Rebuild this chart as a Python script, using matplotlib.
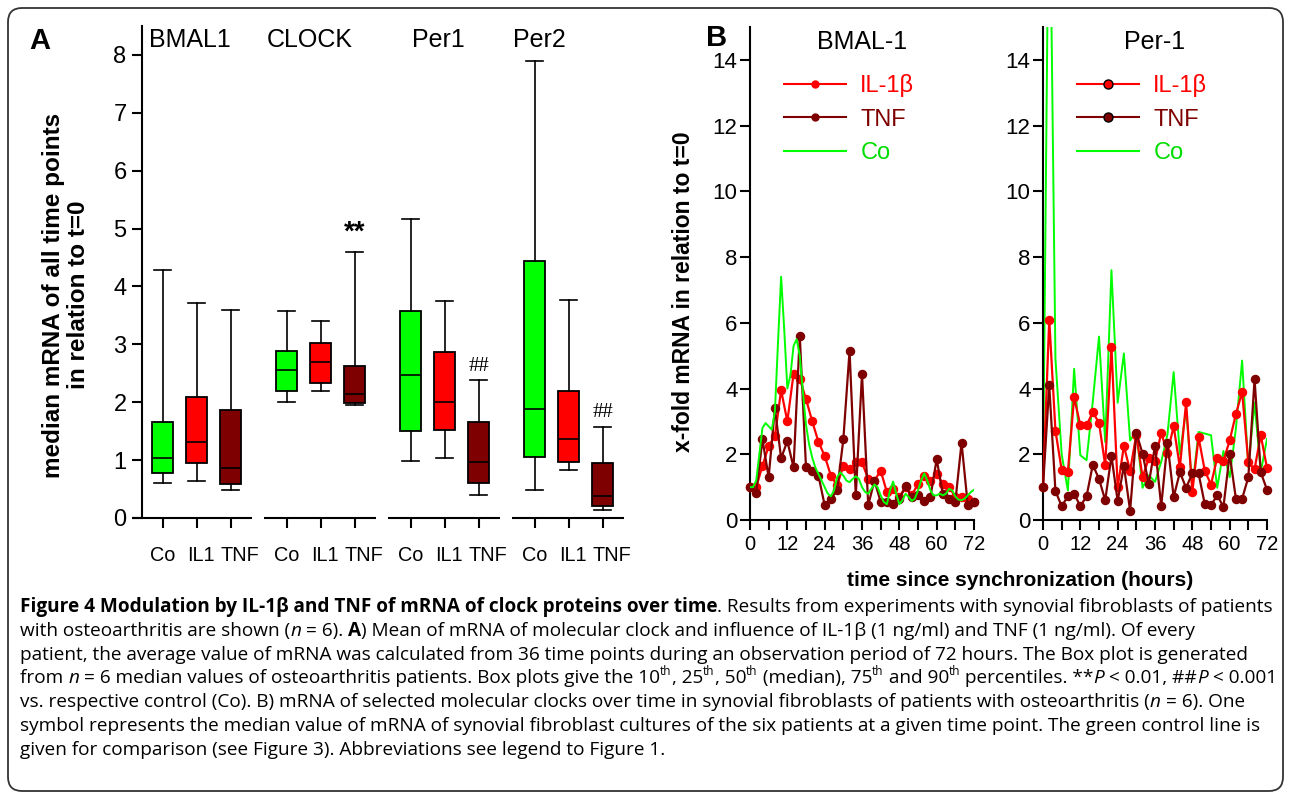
import numpy as np
import matplotlib
matplotlib.use("Agg")
import matplotlib.pyplot as plt
import matplotlib.transforms as mtransforms
from matplotlib.lines import Line2D
from matplotlib.patches import FancyBboxPatch
from matplotlib.font_manager import FontProperties

W, H = 1290, 795
plt.rcParams['font.family'] = ['Liberation Sans', 'DejaVu Sans']

GREEN = '#00ff00'
RED = '#ff0000'
DARK = '#7f0000'

# ---- panel A: 10th, 25th, 50th, 75th, 90th percentiles per gene / treatment
genes = ['BMAL1', 'CLOCK', 'Per1', 'Per2']
treatments = ['Co', 'IL1', 'TNF']
box_colors = [GREEN, RED, DARK]
p10 = [[0.61, 0.64, 0.48], [2.01, 2.19, 1.95], [0.99, 1.04, 0.40], [0.49, 0.83, 0.14]]
p25 = [[0.78, 0.95, 0.59], [2.19, 2.33, 1.98], [1.50, 1.52, 0.61], [1.05, 0.96, 0.21]]
p50 = [[1.04, 1.32, 0.86], [2.56, 2.69, 2.14], [2.47, 2.01, 0.97], [1.88, 1.36, 0.38]]
p75 = [[1.65, 2.09, 1.87], [2.89, 3.02, 2.63], [3.57, 2.86, 1.65], [4.44, 2.19, 0.95]]
p90 = [[4.28, 3.72, 3.60], [3.58, 3.41, 4.59], [5.16, 3.75, 2.38], [7.89, 3.76, 1.57]]
sig_marks = [(1, 2, '**'), (2, 2, '##'), (3, 2, '##')]

# ---- panel B: medians over time (every 2 h), control every 1 h / 2 h
hours = np.arange(0, 73, 2)
hours_1h = np.arange(0, 73, 1)

bmal_il1 = [1.0, 1.0, 1.65, 2.25, 2.55, 3.95, 3.0, 4.45, 4.3, 3.68,
            3.0, 2.38, 1.95, 1.35, 1.05, 1.65, 1.55, 1.75, 1.75, 1.25,
            1.2, 1.5, 0.85, 0.95, 0.7, 1.0, 0.75, 1.1, 1.35, 1.2,
            1.4, 1.1, 1.0, 0.7, 0.7, 0.65, 0.55]
bmal_tnf = [1.0, 0.83, 2.45, 1.3, 3.4, 1.88, 2.4, 1.6, 5.6, 1.6,
            1.5, 1.35, 0.45, 0.65, 0.9, 2.45, 5.15, 0.75, 4.45, 0.45,
            1.2, 0.55, 0.55, 0.5, 0.65, 1.02, 0.7, 0.75, 0.58, 0.7,
            1.85, 0.78, 0.65, 0.55, 2.35, 0.45, 0.55]
bmal_co = [1.0, 1.0, 1.2, 2.0, 2.8, 2.95, 2.85, 2.75, 3.3, 5.4, 7.4, 5.8,
           4.0, 4.4, 5.3, 5.5, 5.0, 3.9, 2.9, 2.3, 1.9, 1.6, 1.4, 1.2,
           1.0, 0.8, 0.72, 0.9, 1.3, 1.45, 1.35, 1.2, 1.15, 1.25, 1.33, 1.25,
           1.0, 0.85, 0.8, 0.95, 1.08, 1.0, 0.75, 0.55, 0.48, 0.9, 1.17, 0.8,
           0.48, 0.6, 0.8, 0.7, 0.58, 0.65, 0.9, 1.2, 1.42, 1.2, 0.9, 0.75,
           0.75, 0.8, 0.75, 0.8, 0.95, 0.9, 0.72, 0.62, 0.6, 0.65, 0.75, 0.85,
           0.92]

per_il1 = [1.0, 6.1, 2.72, 1.52, 1.47, 3.73, 2.88, 2.88, 3.28, 2.96,
           1.66, 5.27, 1.0, 2.25, 1.5, 2.6, 1.3, 1.88, 1.8, 2.65,
           2.05, 2.85, 1.6, 3.58, 0.85, 2.52, 1.5, 1.08, 1.9, 1.8,
           2.42, 3.22, 3.9, 1.75, 1.55, 2.58, 1.58]
per_tnf = [1.0, 4.1, 0.88, 0.42, 0.72, 0.8, 0.42, 0.72, 1.68, 1.25,
           0.6, 1.95, 0.58, 1.65, 0.28, 2.65, 2.02, 1.1, 2.25, 0.42,
           2.35, 0.7, 1.45, 0.98, 1.42, 1.42, 0.48, 0.45, 0.75, 0.4,
           2.0, 0.65, 0.65, 1.3, 4.28, 1.45, 0.92]
per_co = [1.0, 21.0, 4.9, 2.0, 0.9, 4.6, 1.97, 1.82, 3.6, 5.58,
          2.37, 7.6, 3.57, 5.07, 2.42, 2.7, 0.98, 1.36, 1.16, 1.77,
          2.6, 4.5, 2.0, 3.38, 0.98, 2.68, 2.63, 2.58, 0.98, 2.1,
          1.3, 2.78, 4.85, 1.6, 3.57, 1.46, 2.47]

legend_labels = ['IL-1\u03b2', 'TNF', 'Co']

caption = [
    [("Figure 4 Modulation by IL-1\u03b2 and TNF of mRNA of clock proteins over time", 'b'),
     (". Results from experiments with synovial fibroblasts of patients", '')],
    [("with osteoarthritis are shown (", ''), ("n", 'i'), (" = 6). ", ''), ("A", 'b'),
     (") Mean of mRNA of molecular clock and influence of IL-1\u03b2 (1 ng/ml) and TNF (1 ng/ml). Of every", '')],
    [("patient, the average value of mRNA was calculated from 36 time points during an observation period of 72 hours. The Box plot is generated", '')],
    [("from ", ''), ("n", 'i'), (" = 6 median values of osteoarthritis patients. Box plots give the 10", ''), ("th", 's'),
     (", 25", ''), ("th", 's'), (", 50", ''), ("th", 's'), (" (median), 75", ''), ("th", 's'),
     (" and 90", ''), ("th", 's'), (" percentiles. **", ''), ("P", 'i'), (" < 0.01, ##", ''), ("P", 'i'),
     (" < 0.001", '')],
    [("vs. respective control (Co). B) mRNA of selected molecular clocks over time in synovial fibroblasts of patients with osteoarthritis (", ''),
     ("n", 'i'), (" = 6). One", '')],
    [("symbol represents the median value of mRNA of synovial fibroblast cultures of the six patients at a given time point. The green control line is", '')],
    [("given for comparison (see Figure 3). Abbreviations see legend to Figure 1.", '')],
]

fig = plt.figure(figsize=(W / 100, H / 100), dpi=100)


def px_axes(left, top, right, bottom):
    return fig.add_axes([left / W, 1 - bottom / H, (right - left) / W, (bottom - top) / H])


def ftext(x, y, s, **kw):
    return fig.text(x / W, 1 - y / H, s, **kw)


# ================= panel A =================
axA = px_axes(132, 26, 623, 518)
stats, positions, colors = [], [], []
for g in range(len(genes)):
    for k in range(len(treatments)):
        stats.append(dict(whislo=p10[g][k], q1=p25[g][k], med=p50[g][k],
                          q3=p75[g][k], whishi=p90[g][k], fliers=[]))
        positions.append(g * 3.65 + k)
        colors.append(box_colors[k])
bp = axA.bxp(stats, positions=positions, widths=0.62, capwidths=0.5,
             patch_artist=True, showfliers=False,
             boxprops=dict(edgecolor='black', linewidth=1.3),
             medianprops=dict(color='black', linewidth=1.2),
             whiskerprops=dict(color='black', linewidth=1.2),
             capprops=dict(color='black', linewidth=1.2))
for patch, c in zip(bp['boxes'], colors):
    patch.set_facecolor(c)

axA.set_xlim(-0.91, 13.55)
axA.set_ylim(0, 8.5)
for s in ['top', 'right', 'bottom']:
    axA.spines[s].set_visible(False)
axA.spines['left'].set_position(('data', -0.62))
axA.spines['left'].set_linewidth(1.5)
axA.set_yticks(range(0, 9))
axA.set_xticks(positions)
axA.set_xticklabels(treatments * len(genes))
axA.tick_params(axis='y', direction='out', length=7, width=1.5, labelsize=17, pad=4)
axA.tick_params(axis='x', direction='out', length=7, width=1.5, labelsize=14.3, pad=13)
axA.patch.set_visible(False)
# labels under each group are set like a word row, not centred on the ticks
label_shift = [0, 4, 9]
for i, lab in enumerate(axA.get_xticklabels()):
    off = mtransforms.ScaledTranslation(label_shift[i % 3] / 100, 0, fig.dpi_scale_trans)
    lab.set_transform(lab.get_transform() + off)

# broken baseline, one piece per gene group
for g in range(len(genes)):
    x0 = positions[g * 3] - 0.67 if g > 0 else -0.91
    x1 = positions[g * 3 + 2] + 0.63
    axA.plot([x0, x1], [0, 0], color='black', lw=1.5, clip_on=False, solid_capstyle='butt')

for g, k, s in sig_marks:
    x = positions[g * 3 + k]
    if s == '**':
        axA.text(x, p90[g][k] + 0.12, s, ha='center', va='bottom', fontsize=20, fontweight='bold')
    else:
        axA.text(x, p90[g][k] + 0.08, s, ha='center', va='bottom', fontsize=15,
                 family=['Liberation Serif', 'DejaVu Serif'])

for g, name in enumerate(genes):
    xc = [190, 310, 438, 539][g]
    ftext(xc, 40, name, ha='center', va='center', fontsize=18)

ftext(40, 41, 'A', ha='center', va='center', fontsize=21, fontweight='bold')
ftext(66, 295, 'median mRNA of all time points\nin relation to t=0', rotation=90,
      ha='center', va='center', fontsize=17.5, fontweight='bold', linespacing=1.12)

# ================= panel B =================
axB1 = px_axes(750, 27, 974, 520)
axB2 = px_axes(1043, 27, 1267, 520)


def draw_time_panel(ax, title, il1, tnf, co_t, co, co_top, edge_legend):
    ax.plot(hours, il1, '-o', color=RED, lw=1.6, ms=5.8, mec=RED, clip_on=False, zorder=3)
    ax.plot(hours, tnf, '-o', color=DARK, lw=1.6, ms=5.8, mec=DARK, clip_on=False, zorder=3.5)
    ax.plot(co_t, co, '-', color=GREEN, lw=1.4, zorder=4 if co_top else 2)
    ax.set_xlim(0, 72)
    ax.set_ylim(0, 15)
    for s in ['top', 'right']:
        ax.spines[s].set_visible(False)
    for s in ['left', 'bottom']:
        ax.spines[s].set_linewidth(1.5)
    ax.set_xticks(range(0, 73, 12))
    ax.set_xticks(range(6, 73, 12), minor=True)
    ax.set_yticks(range(0, 15, 2))
    ax.tick_params(axis='both', which='both', direction='out', length=7, width=1.5)
    ax.tick_params(axis='y', labelsize=16, pad=2)
    ax.tick_params(axis='x', labelsize=14.5, pad=4)
    ax.yaxis.get_major_ticks()[-1].tick1line.set_color(RED)
    ax.patch.set_visible(False)

    if edge_legend:
        h1 = Line2D([], [], color=RED, lw=1.5, marker='o', ms=6.5, mfc=RED, mec='black')
        h2 = Line2D([], [], color=DARK, lw=1.5, marker='o', ms=6.5, mfc=DARK, mec='black')
    else:
        h1 = Line2D([], [], color=RED, lw=1.5, marker='o', ms=5, mfc=RED, mec=RED)
        h2 = Line2D([], [], color=DARK, lw=1.5, marker='o', ms=5, mfc=DARK, mec=DARK)
    h3 = Line2D([], [], color=GREEN, lw=1.5)
    leg = ax.legend([h1, h2, h3], legend_labels, loc='upper left', bbox_to_anchor=(0.15, 0.905),
                    frameon=False, fontsize=17, handlelength=2.65, handletextpad=0.6,
                    labelspacing=0.5, borderaxespad=0, borderpad=0)
    for t, c in zip(leg.get_texts(), [RED, DARK, '#00dd00']):
        t.set_color(c)
    ax.set_title(title, fontsize=18, pad=0, y=0.955)


draw_time_panel(axB1, 'BMAL-1', bmal_il1, bmal_tnf, hours_1h, bmal_co, True, False)
draw_time_panel(axB2, 'Per-1', per_il1, per_tnf, hours, per_co, False, True)

ftext(717, 38, 'B', ha='center', va='center', fontsize=21, fontweight='bold')
ftext(683, 292, 'x-fold mRNA in relation to t=0', rotation=90, ha='center', va='center',
      fontsize=16.5, fontweight='bold')
ftext(1020, 580, 'time since synchronization (hours)', ha='center', va='center',
      fontsize=15, fontweight='bold')

# ================= caption =================
fig.canvas.draw()
renderer = fig.canvas.get_renderer()
cap_family = 'Open Sans'


def run_props(style, size):
    fp = FontProperties(family=cap_family, size=size * 0.62 if 's' in style else size,
                        weight='bold' if 'b' in style else 'normal',
                        style='italic' if 'i' in style else 'normal')
    return fp


def run_width(txt, fp):
    w1 = renderer.get_text_width_height_descent('x' + txt + 'x', fp, ismath=False)[0]
    w0 = renderer.get_text_width_height_descent('xx', fp, ismath=False)[0]
    return w1 - w0


def line_width(runs, size):
    return sum(run_width(t, run_props(st, size)) for t, st in runs)


cap_size = 12 * (1252 / line_width(caption[0], 12))
for i, runs in enumerate(caption):
    x = 20
    base = 612 + i * 23.8
    for txt, st in runs:
        fp = run_props(st, cap_size)
        y = base - (cap_size * 0.42 * 100 / 72 if 's' in st else 0)
        fig.text(x / W, 1 - y / H, txt, fontproperties=fp, ha='left', va='baseline')
        x += run_width(txt, fp)

frame = FancyBboxPatch((8, 4), 1275, 783, boxstyle='round,pad=0,rounding_size=14',
                       transform=None, fill=False, edgecolor='#333333', lw=1.3)
fig.add_artist(frame)

fig.savefig('out.png', dpi=100)
